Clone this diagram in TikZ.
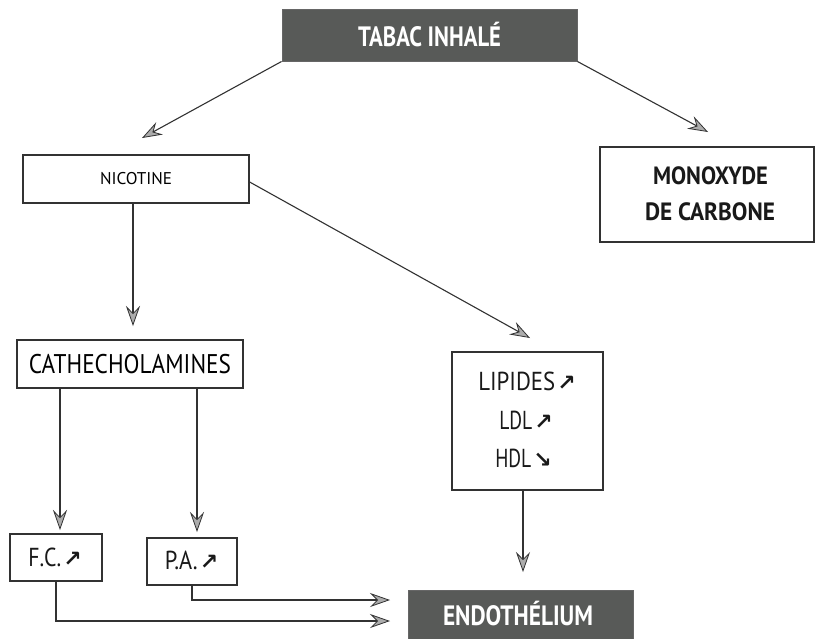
\documentclass[tikz,border=0pt]{standalone}
\usepackage{fontspec}
\usepackage{graphicx}
\setmainfont{PT Sans}
\newfontfamily\symf{DejaVu Sans}
\usetikzlibrary{arrows.meta}
\definecolor{darkfill}{RGB}{88,90,88}
\definecolor{linec}{RGB}{50,50,50}
\newcommand\tx[3]{\resizebox{#1pt}{\height}{\fontsize{#2}{#2}\selectfont #3}}
\newcommand\up{{\symf\bfseries\fontsize{22}{22}\selectfont ↗}}
\newcommand\down{{\symf\bfseries\fontsize{22}{22}\selectfont ↘}}
\tikzset{
  box/.style={draw=linec, line width=1.3pt, fill=white, inner sep=0pt, anchor=center},
  darkbox/.style={draw=black!60, line width=1pt, fill=darkfill, text=white, inner sep=0pt, anchor=center},
  lbl/.style={inner sep=0pt, anchor=center, text=black!90},
  arr/.style={draw=linec, line width=1.1pt, -{Stealth[length=20pt,width=14pt,inset=7pt,fill=gray!65,line width=0.8pt]}}
}
\begin{document}
\begin{tikzpicture}[x=1pt,y=-1pt]
\useasboundingbox[fill=white] (0,0) rectangle (816,638);
% boxes
\node[darkbox, minimum width=295pt, minimum height=52pt] (tabac) at (429.5,35) {\tx{143}{28}{\bfseries TABAC INHALÉ}};
\node[box, minimum width=226pt, minimum height=48pt] (nic) at (136,179) {\tx{72}{17}{NICOTINE}};
\node[box, minimum width=214pt, minimum height=95pt] (mono) at (707,194.5) {};
\node[lbl] (mono1) at (710.5,176) {\tx{115}{25}{\bfseries MONOXYDE}};
\node[lbl] (mono2) at (710,212) {\tx{130}{25}{\bfseries DE CARBONE}};
\node[box, minimum width=226pt, minimum height=48pt] (cat) at (130,364) {\tx{202}{27}{CATHECHOLAMINES}};
\node[box, minimum width=151pt, minimum height=138pt] (lip) at (527.5,421) {};
\node[lbl] (lip1) at (527,381) {\tx{77}{26}{LIPIDES}\hspace{2pt}\up};
\node[lbl] (lip2) at (526,420) {\tx{33}{26}{LDL}\hspace{2pt}\up};
\node[lbl] (lip3) at (523.5,458) {\tx{36}{26}{HDL}\hspace{2pt}\down};
\node[box, minimum width=92pt, minimum height=47pt] (fc) at (56,557.5) {};
\node[lbl] (fct) at (55,557) {\tx{33}{26}{F.C.}\hspace{2pt}\up};
\node[box, minimum width=90pt, minimum height=47pt] (pa) at (192,561.5) {};
\node[lbl] (pat) at (191.5,560) {\tx{33}{26}{P.A.}\hspace{2pt}\up};
\node[darkbox, minimum width=225pt, minimum height=52pt, anchor=north] (endo) at (520.5,590) {};
\node[lbl, text=white] (endot) at (518,614) {\tx{150}{28}{\bfseries ENDOTHÉLIUM}};
% arrow tips
\coordinate (tn) at (142,138);
\coordinate (tm) at (708,132);
\coordinate (tc) at (133,326);
\coordinate (tl) at (530,338);
\coordinate (tf) at (60,530);
\coordinate (tp) at (197,532);
\coordinate (te) at (523,572);
\coordinate (tfe) at (390,621);
\coordinate (tpe) at (390,600);
% connectors
\draw[arr] (tabac.south west) -- (tn);
\draw[arr] (tabac.south east) -- (tm);
\draw[arr] (tc |- nic.south) -- (tc);
\draw[arr] ([yshift=-3pt]nic.east) -- (tl);
\draw[arr] (tf |- cat.south) -- (tf);
\draw[arr] (tp |- cat.south) -- (tp);
\draw[arr] (te |- lip.south) -- (te);
\draw[arr] (fc.south) -- (fc.south |- tfe) -- (tfe);
\draw[arr] (pa.south) -- (pa.south |- tpe) -- (tpe);
\end{tikzpicture}
\end{document}
